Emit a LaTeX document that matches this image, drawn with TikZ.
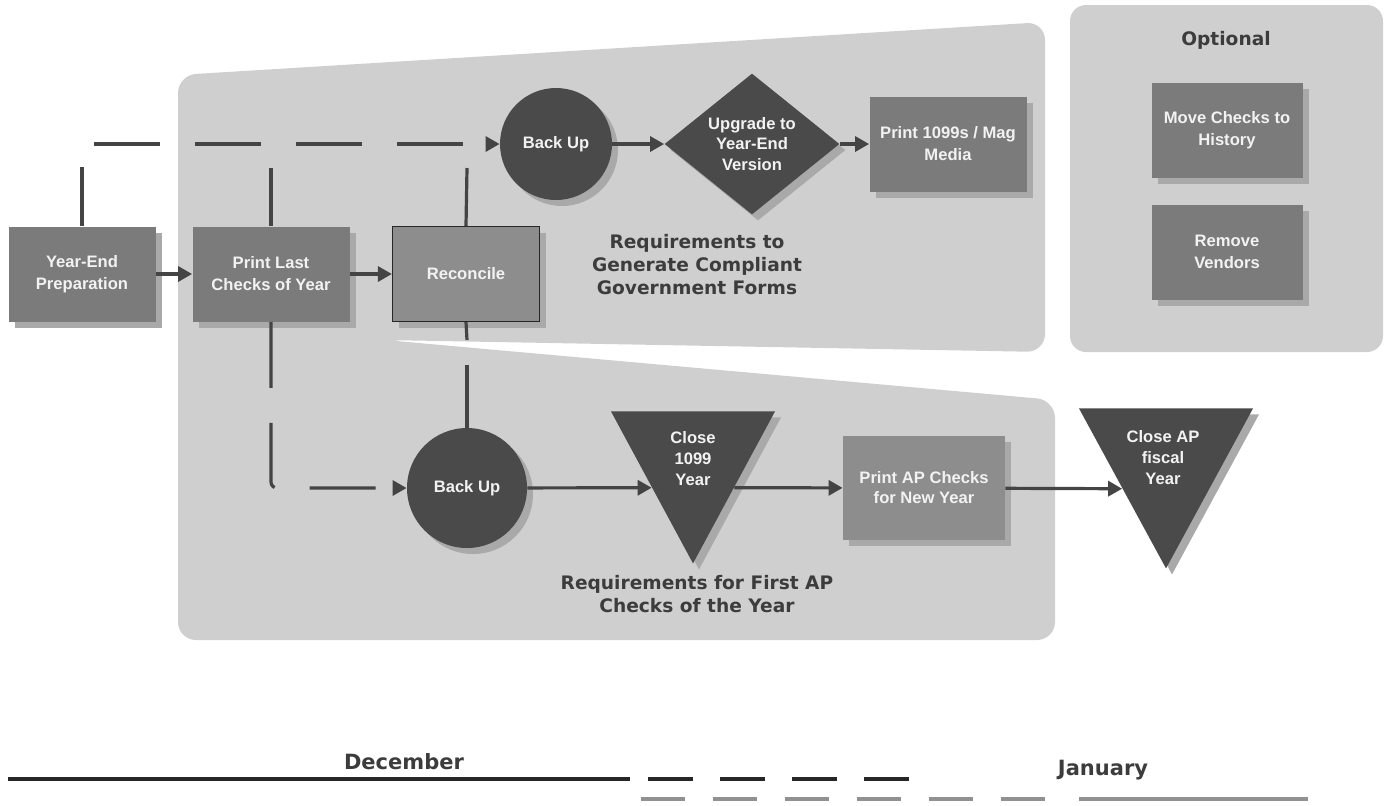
\documentclass[tikz,border=0pt]{standalone}
\usepackage{fontspec}
\setmainfont{Liberation Sans}
\newfontfamily\grpfamily{DejaVu Sans}
\usetikzlibrary{arrows.meta,shapes.geometric,shadows,positioning}

\definecolor{panelgray}{HTML}{CFCFCF}
\definecolor{boxgray}{HTML}{7B7B7B}
\definecolor{boxlight}{HTML}{8D8D8D}
\definecolor{darkgray}{HTML}{4A4A4A}
\definecolor{shadowgray}{HTML}{A9A9A9}
\definecolor{linegray}{HTML}{444444}
\definecolor{labelgray}{HTML}{3C3C3C}
\definecolor{boxtext}{HTML}{F2F2F2}
\definecolor{monthgray}{HTML}{919191}

\newcommand\boxfont{\fontsize{8.3}{11}\selectfont\bfseries}
\newcommand\grpfont{\grpfamily\fontsize{9.3}{11.5}\selectfont\bfseries}
\newcommand\monthfont{\grpfamily\fontsize{10.5}{12}\selectfont\bfseries}

\begin{document}
\begin{tikzpicture}[x=0.5pt,y=-0.5pt,
  boxshadow/.style={drop shadow={shadow xshift=3pt,shadow yshift=-3pt,fill=shadowgray,opacity=1}},
  task/.style={rectangle,fill=boxgray,text=boxtext,font=\boxfont,align=center,
    inner sep=2pt,minimum width=73.5pt,minimum height=47.5pt,boxshadow},
  backup/.style={circle,fill=darkgray,text=boxtext,font=\boxfont,inner sep=0pt,boxshadow},
  gate/.style={diamond,fill=darkgray,text=boxtext,font=\fontsize{8.3}{10.3}\selectfont\bfseries,
    align=center,inner sep=0pt,minimum width=87.5pt,minimum height=70pt,boxshadow},
  closer/.style={isosceles triangle,isosceles triangle stretches,shape border rotate=270,
    fill=darkgray,inner sep=0pt,boxshadow},
  closetxt/.style={text=boxtext,font=\fontsize{8.3}{10.5}\selectfont\bfseries,align=center,inner sep=0pt},
  grplabel/.style={text=labelgray,font=\grpfont,align=center,inner sep=0pt},
  flow/.style={draw=linegray,line width=1.6pt,-{Triangle[length=7pt,width=7.5pt]}},
  link/.style={draw=linegray,line width=1.6pt},
  gapped/.style={dash pattern=on 33pt off 17.5pt},
  month/.style={line width=2.2pt},
  monthlabel/.style={text=labelgray,font=\monthfont,inner sep=0pt}]
  \useasboundingbox (0,0) rectangle (1392,805);

  % shaded areas
  \fill[panelgray,rounded corners=9pt] (178,75) -- (1045,22) -- (1045,352) -- (385,340)
    -- (1055,400) -- (1055,640) -- (178,640) -- cycle;
  \fill[panelgray,rounded corners=8pt] (1070,5) rectangle (1383,352);

  % steps
  \node[task] (yep) at (82,274) {Year-End\\Preparation};
  \node[task,minimum width=78.5pt] (plc) at (271,274) {Print Last\\Checks of Year};
  \node[task,fill=boxlight,draw=black!85,line width=0.6pt] (rec) at (466,274) {Reconcile};
  \node[backup,minimum size=56pt] (bu1) at (556,144) {Back Up};
  \node[gate] (upg) at (752,144) {Upgrade to\\Year-End\\Version};
  \node[task,minimum width=78.5pt] (mag) at (948,144) {Print 1099s / Mag\\Media};
  \node[grplabel] (reqgov) at (697,265) {Requirements to\\Generate Compliant\\Government Forms};

  \node[backup,minimum size=60pt] (bu2) at (467,488) {Back Up};
  \node[closer,minimum width=82pt,minimum height=76pt,anchor=lower side] (cl1) at (693,411) {};
  \node[closetxt] (cl1t) at (693,459) {Close\\1099\\Year};
  \node[task,fill=boxlight,minimum width=81pt,minimum height=52pt,
    font=\fontsize{8.3}{10}\selectfont\bfseries] (pap) at (924,488) {Print AP Checks\\for New Year};
  \node[closer,minimum width=87pt,minimum height=80pt,anchor=lower side] (cl2) at (1166,408) {};
  \node[closetxt] (cl2t) at (1163,458) {Close AP\\fiscal\\Year};
  \node[grplabel] (reqap) at (697,594) {Requirements for First AP\\Checks of the Year};

  % optional
  \node[grplabel] (opt) at (1226,40) {Optional};
  \node[task,minimum width=75.5pt] (mvh) at (1227,130) {Move Checks to\\History};
  \node[task,minimum width=75.5pt] (rmv) at (1227,252) {Remove\\Vendors};

  % connectors
  \coordinate (plcup) at (271,168);
  \coordinate (recup) at (467,168);
  \coordinate (reclo) at (467,340);
  \coordinate (bu2up) at (467,365);
  \draw[flow] (yep) -- (plc);
  \draw[flow] (plc) -- (rec);
  \draw[flow] (bu1) -- (upg);
  \draw[flow] (upg) -- (mag);
  \draw[flow,gapped,dash phase=3.5pt] (yep.north) |- (bu1);
  \draw[link] (plc.north) -- (plcup);
  \draw[link] (rec.north) -- (recup);
  \draw[flow,gapped,rounded corners=3pt] (plc.south) |- (bu2);
  \draw[link] (rec.south) -- (reclo);
  \draw[link] (bu2up) -- (bu2.north);
  \draw[flow] (bu2) -- (cl1.right side);
  \draw[flow] (cl1.left side) -- (pap);
  \draw[flow] (pap) -- (cl2.right side);

  % months
  \coordinate (decA) at (8,779);
  \coordinate (decB) at (630,779);
  \coordinate (decC) at (648,779);
  \coordinate (decD) at (910,779);
  \coordinate (janA) at (641,799);
  \coordinate (janB) at (1046,799);
  \coordinate (janC) at (1079,799);
  \coordinate (janD) at (1308,799);
  \draw[month,draw=black!85] (decA) -- (decB);
  \draw[month,draw=black!85,dash pattern=on 22.5pt off 13.5pt] (decC) -- (decD);
  \draw[month,draw=monthgray,line width=2.4pt,dash pattern=on 22pt off 14pt] (janA) -- (janB);
  \draw[month,draw=monthgray,line width=2.4pt] (janC) -- (janD);
  \node[monthlabel] (dec) at (404,762) {December};
  \node[monthlabel] (jan) at (1103,770) {January};
\end{tikzpicture}
\end{document}
